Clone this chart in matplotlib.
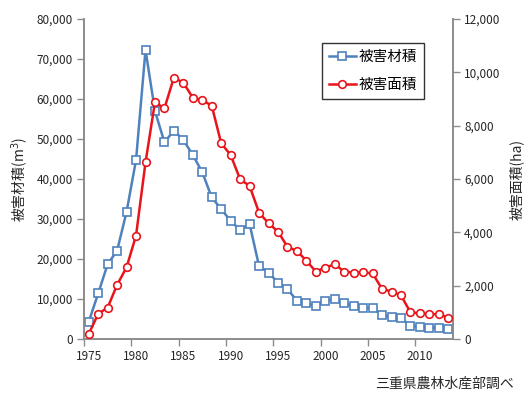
import matplotlib
matplotlib.use("Agg")
import matplotlib.pyplot as plt
from matplotlib.ticker import FuncFormatter, FixedLocator

plt.rcParams['font.family'] = ['Noto Sans CJK JP', 'DejaVu Sans']

years = list(range(1975, 2014))
volume_m3 = [4300, 11400, 18700, 22100, 31800, 44750, 72250, 57000, 49200, 52100,
             49750, 46000, 41700, 35400, 32500, 29500, 27250, 28750, 18250, 16600,
             14100, 12500, 9600, 8900, 8250, 9500, 9900, 8900, 8250, 7830,
             7670, 6000, 5400, 5300, 3250, 3080, 2830, 2830, 2500]
area_ha = [190, 940, 1180, 2030, 2690, 3880, 6620, 8880, 8650, 9800,
           9610, 9050, 8960, 8750, 7340, 6900, 5990, 5740, 4740, 4340,
           4030, 3460, 3300, 2940, 2530, 2680, 2800, 2530, 2490, 2500,
           2460, 1880, 1780, 1640, 1000, 960, 930, 930, 800]
label_years = [1975, 1980, 1985, 1990, 1995, 2000, 2005, 2010]
series_names = ['被害材積', '被害面積']

blue = '#4F81BD'
red = '#E8141B'
gray = '#8C8C8C'
txt = '#262626'

fig = plt.figure(figsize=(5.28, 4.01), dpi=100)
ax = fig.add_axes([84/528, 1-339/401, (453-84)/528, (339-19)/401])
ax2 = ax.twinx()

xs = list(range(len(years)))
l1, = ax.plot(xs, volume_m3, color=blue, lw=1.8, marker='s', ms=5.5,
              mfc='white', mec=blue, mew=1.2, label=series_names[0], zorder=3)
l2, = ax2.plot(xs, area_ha, color=red, lw=1.8, marker='o', ms=5.5,
               mfc='white', mec=red, mew=1.2, label=series_names[1], zorder=3)

ax.set_xlim(-0.5, len(years) - 0.5)
ax.set_ylim(0, 80000)
ax2.set_ylim(0, 12000)
ax.set_yticks(range(0, 80001, 10000))
ax2.set_yticks(range(0, 12001, 2000))
fmt = FuncFormatter(lambda v, p: f"{int(v):,}")
ax.yaxis.set_major_formatter(fmt)
ax2.yaxis.set_major_formatter(fmt)

ax.set_xticks([years.index(y) for y in label_years])
ax.set_xticklabels([str(y) for y in label_years])
ax.xaxis.set_minor_locator(FixedLocator([years.index(y) - 0.5 for y in label_years]))
ax.tick_params(axis='x', which='major', length=0, pad=8)
ax.tick_params(axis='x', which='minor', length=5, color=gray, width=1)

for a in (ax, ax2):
    a.spines['top'].set_visible(False)
    for s in ('left', 'right', 'bottom'):
        a.spines[s].set_color(gray)
        a.spines[s].set_linewidth(1.2)
    a.tick_params(axis='y', length=5, color=gray, width=1, labelsize=8.5, labelcolor=txt, pad=3)
ax.tick_params(axis='x', labelsize=8.5, labelcolor=txt)

ax.set_ylabel('被害材積(m$^3$)', fontsize=10, color=txt, va='center')
ax.yaxis.set_label_coords((20-84)/369, 0.5)
ax2.set_ylabel('被害面積(ha)', fontsize=10, color=txt, rotation=90, va='center')
ax2.yaxis.set_label_coords((516-84)/369, 0.5)

ax2.set_zorder(ax.get_zorder() + 1)
ax2.patch.set_visible(False)

leg = ax2.legend(handles=[l1, l2], loc='upper left', bbox_to_anchor=((322-84)/369, (339-43)/320),
                 fontsize=10.5, frameon=True, fancybox=False, edgecolor='black',
                 handlelength=1.8, handletextpad=0.2, borderpad=0.5, labelspacing=0.95,
                 borderaxespad=0)
leg.get_frame().set_linewidth(1.0)

fig.text(514/528, 1-384/401, '三重県農林水産部調べ', fontsize=10, color=txt, ha='right', va='center')

fig.savefig('out.png', dpi=100)
